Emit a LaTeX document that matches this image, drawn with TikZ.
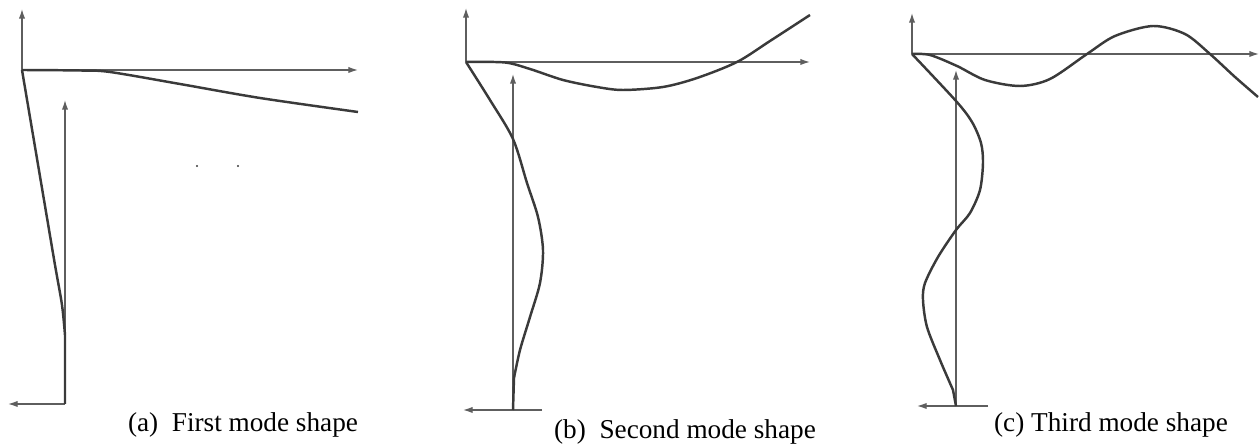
\documentclass[tikz,border=0pt]{standalone}
\usepackage{fontspec}
\setmainfont{Liberation Serif}
\usetikzlibrary{arrows.meta}
\definecolor{axisgray}{HTML}{5E5E5E}
\definecolor{modegray}{HTML}{3A3A3A}
\begin{document}
\begin{tikzpicture}[x=0.02cm,y=-0.02cm,
    axis/.style={draw=axisgray,line width=0.75pt,-{Latex[length=5.5pt,width=3.6pt]}},
    mode/.style={draw=modegray,line width=1.4pt,line join=round},
    caption/.style={anchor=base,font=\fontsize{15.5}{18}\selectfont}]
                \useasboundingbox (0,0) rectangle (1259,445);

                % (a) first mode
                \coordinate (AOrigin) at (22,70);
                \coordinate (ABase) at (65,404);
                \draw[axis] (AOrigin)--(22,9);
                \draw[axis] (AOrigin)--(358,70);
                \draw[axis] (ABase)--(65,100);
                \draw[axis] (ABase)--(8,404);
                \draw[mode] plot[smooth] coordinates {(22,70) (33,135) (44,200) (55,265) (62,305) (65,335)} -- (ABase);
                \draw[mode] plot[smooth] coordinates {(22,70) (80,70.5) (110,72) (180,84) (260,98) (358,112)};
                \fill[modegray] (197,166) circle[radius=1.2] (238,166) circle[radius=1.2];
                \node[caption] at (243,432) {(a)\ \ First mode shape};

                % (b) second mode
                \coordinate (BOrigin) at (466,62);
                \coordinate (BBase) at (513,410);
                \draw[axis] (BOrigin)--(466,8);
                \draw[axis] (BOrigin)--(810,62);
                \draw[axis] (BBase)--(513,74);
                \draw[axis] (542,410)--(463,410);
                \draw[mode] plot[smooth] coordinates {(466,62) (490,100) (513,139) (527,183) (538,217) (543,250) (540,283) (530,317) (520,350) (514,378)} -- (BBase);
                \draw[mode] plot[smooth] coordinates {(466,62) (505,62.5) (530,69) (563,80) (597,87) (623,90) (663,87) (697,78) (737,62) (770,41) (810,15)};
                \node[caption] at (685,439) {(b)\ \ Second mode shape};

                % (c) third mode
                \coordinate (COrigin) at (912,54);
                \coordinate (CBase) at (956,406);
                \draw[axis] (COrigin)--(912,13);
                \draw[axis] (COrigin)--(1259,54);
                \draw[axis] (CBase)--(956,70);
                \draw[axis] (988,406)--(917,406);
                \draw[mode] plot[smooth] coordinates {(912,54) (956,101) (972,122) (981,143) (983,163) (980,190) (970,213) (956,230) (938,257) (925,283) (923,300) (927,327) (940,360) (953,390)} -- (CBase);
                \draw[mode] plot[smooth] coordinates {(912,54) (930,55) (957,66) (985,80) (1020,86) (1050,79) (1087,54) (1115,36) (1153,26) (1185,34) (1210,54) (1235,77) (1258,97)};
                \node[caption] at (1111,432) {(c) Third mode shape};
            \end{tikzpicture}
\end{document}
